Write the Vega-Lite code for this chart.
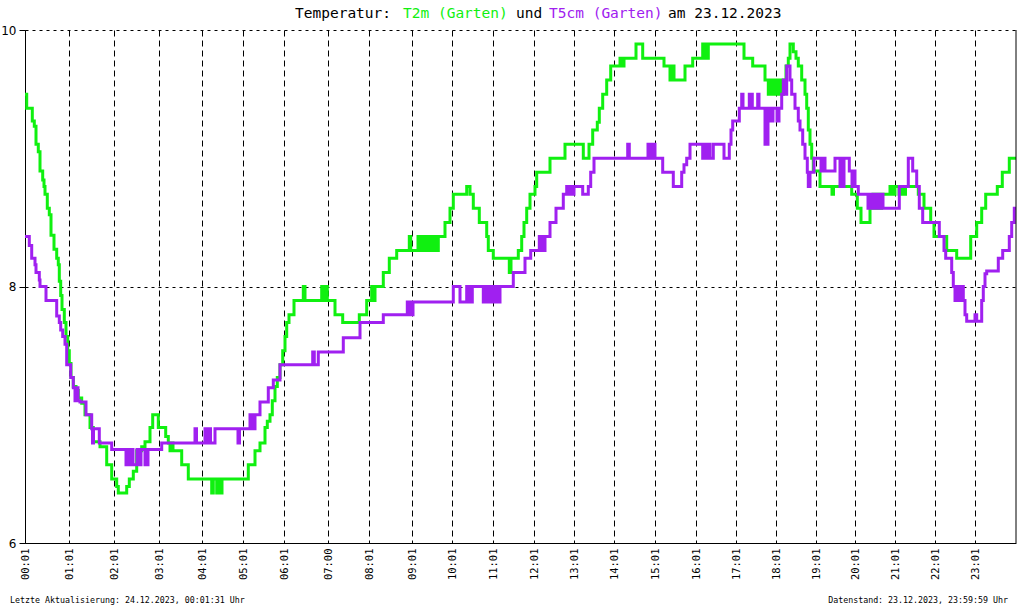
{
  "$schema": "https://vega.github.io/schema/vega-lite/v6.json",
  "width": 991,
  "height": 513,
  "autosize": {"type": "none"},
  "padding": {"left": 25, "top": 30, "right": 4, "bottom": 63},
  "background": "white",
  "config": {"view": {"stroke": null}},
  "datasets": {
    "g": [
      {"i":0,"v":9.5},{"i":1.7,"v":9.39},{"i":7.3,"v":9.29},{"i":9.3,"v":9.25},{"i":11,"v":9.11},{"i":13.3,"v":9.05},{"i":15,"v":8.9},{"i":17.7,"v":8.83},{"i":19,"v":8.78},{"i":20,"v":8.72},{"i":22.3,"v":8.61},{"i":24.3,"v":8.56},{"i":26,"v":8.4},{"i":29,"v":8.29},{"i":31.7,"v":8.22},{"i":33.3,"v":8.17},{"i":34.3,"v":8.04},{"i":35.7,"v":7.93},{"i":37,"v":7.82},{"i":39.3,"v":7.72},{"i":41,"v":7.61},{"i":42.7,"v":7.5},{"i":44.3,"v":7.4},{"i":46,"v":7.29},{"i":48.3,"v":7.22},{"i":51,"v":7.19},{"i":53.3,"v":7.13},{"i":56.7,"v":7.09},{"i":60,"v":7.0},{"i":65,"v":6.9},{"i":68.3,"v":6.79},{"i":75,"v":6.75},{"i":81.7,"v":6.61},{"i":86.7,"v":6.5},{"i":91.7,"v":6.44},{"i":93.3,"v":6.39},{"i":101.7,"v":6.44},{"i":104.3,"v":6.5},{"i":108.3,"v":6.56},{"i":111.7,"v":6.72},{"i":116.7,"v":6.75},{"i":120,"v":6.79},{"i":125,"v":6.9},{"i":127.7,"v":7.0},{"i":133.3,"v":6.9},{"i":140.7,"v":6.83},{"i":143.3,"v":6.78},{"i":145,"v":6.72},{"i":146.5,"v":6.78},{"i":148,"v":6.72},{"i":156.7,"v":6.61},{"i":163.3,"v":6.5},{"i":186.7,"v":6.39},{"i":188.3,"v":6.5},{"i":191.7,"v":6.39},{"i":193.3,"v":6.5},{"i":195,"v":6.39},{"i":197,"v":6.5},{"i":223.3,"v":6.61},{"i":230,"v":6.72},{"i":235,"v":6.78},{"i":240,"v":6.9},{"i":242.3,"v":6.95},{"i":245,"v":7.0},{"i":247.3,"v":7.11},{"i":250,"v":7.22},{"i":252.3,"v":7.29},{"i":255,"v":7.39},{"i":257.7,"v":7.5},{"i":260,"v":7.61},{"i":261.7,"v":7.72},{"i":264,"v":7.78},{"i":269,"v":7.89},{"i":278.3,"v":8.0},{"i":280,"v":7.89},{"i":296.7,"v":8.0},{"i":299,"v":7.89},{"i":300,"v":8.0},{"i":302.3,"v":7.89},{"i":310,"v":7.78},{"i":317.7,"v":7.72},{"i":334.3,"v":7.78},{"i":341.7,"v":7.89},{"i":346.7,"v":8.0},{"i":348,"v":7.89},{"i":350,"v":8.0},{"i":358.3,"v":8.11},{"i":364.3,"v":8.22},{"i":371.7,"v":8.28},{"i":384.3,"v":8.39},{"i":385.7,"v":8.28},{"i":393,"v":8.39},{"i":395,"v":8.28},{"i":397,"v":8.39},{"i":399,"v":8.28},{"i":401,"v":8.39},{"i":403,"v":8.28},{"i":405,"v":8.39},{"i":407,"v":8.28},{"i":409,"v":8.39},{"i":411,"v":8.28},{"i":413.3,"v":8.39},{"i":420,"v":8.5},{"i":425,"v":8.61},{"i":428.3,"v":8.72},{"i":441.7,"v":8.78},{"i":445,"v":8.72},{"i":448.3,"v":8.61},{"i":454.3,"v":8.5},{"i":461.7,"v":8.39},{"i":463.3,"v":8.28},{"i":468.3,"v":8.22},{"i":484.3,"v":8.11},{"i":486,"v":8.22},{"i":493.3,"v":8.28},{"i":496.7,"v":8.39},{"i":499,"v":8.5},{"i":501.7,"v":8.61},{"i":505,"v":8.72},{"i":510,"v":8.78},{"i":511.7,"v":8.89},{"i":525,"v":9.0},{"i":540,"v":9.11},{"i":558.3,"v":9.0},{"i":564,"v":9.11},{"i":567.7,"v":9.22},{"i":572.3,"v":9.28},{"i":574.3,"v":9.39},{"i":577.7,"v":9.5},{"i":581.7,"v":9.61},{"i":585.7,"v":9.72},{"i":595,"v":9.78},{"i":597,"v":9.72},{"i":599,"v":9.78},{"i":611,"v":9.89},{"i":617.7,"v":9.78},{"i":639,"v":9.72},{"i":645,"v":9.61},{"i":647,"v":9.72},{"i":649,"v":9.61},{"i":660,"v":9.72},{"i":667.7,"v":9.78},{"i":677.7,"v":9.89},{"i":679,"v":9.78},{"i":680.5,"v":9.89},{"i":681.5,"v":9.78},{"i":683.3,"v":9.89},{"i":719,"v":9.78},{"i":727.7,"v":9.72},{"i":740,"v":9.61},{"i":743.3,"v":9.5},{"i":746,"v":9.61},{"i":748,"v":9.5},{"i":751,"v":9.61},{"i":753,"v":9.5},{"i":755,"v":9.61},{"i":757,"v":9.5},{"i":758.3,"v":9.61},{"i":761,"v":9.72},{"i":763.3,"v":9.78},{"i":765,"v":9.89},{"i":768.3,"v":9.83},{"i":771,"v":9.78},{"i":773.3,"v":9.72},{"i":776.7,"v":9.61},{"i":780,"v":9.5},{"i":781.7,"v":9.39},{"i":783.3,"v":9.22},{"i":785,"v":9.11},{"i":786.7,"v":9.0},{"i":788.3,"v":8.9},{"i":795,"v":8.78},{"i":807,"v":8.72},{"i":808.5,"v":8.78},{"i":826.7,"v":8.72},{"i":832.3,"v":8.61},{"i":836,"v":8.5},{"i":845,"v":8.61},{"i":848,"v":8.72},{"i":850,"v":8.61},{"i":852,"v":8.72},{"i":854,"v":8.61},{"i":856.7,"v":8.72},{"i":865,"v":8.78},{"i":868,"v":8.72},{"i":870,"v":8.78},{"i":874,"v":8.72},{"i":876,"v":8.78},{"i":879,"v":8.72},{"i":880.5,"v":8.78},{"i":893.3,"v":8.72},{"i":899,"v":8.61},{"i":905.7,"v":8.5},{"i":909,"v":8.39},{"i":921.7,"v":8.28},{"i":931.7,"v":8.22},{"i":945.7,"v":8.39},{"i":951.7,"v":8.5},{"i":956.7,"v":8.61},{"i":960.7,"v":8.72},{"i":972.3,"v":8.78},{"i":977.3,"v":8.89},{"i":984.3,"v":9.0},{"i":991,"v":9.0}
    ],
    "p": [
      {"i":0,"v":8.39},{"i":4.3,"v":8.32},{"i":6.7,"v":8.22},{"i":10,"v":8.17},{"i":11,"v":8.11},{"i":14.3,"v":8.05},{"i":15,"v":8.0},{"i":21,"v":7.89},{"i":31.7,"v":7.77},{"i":34.3,"v":7.72},{"i":35.7,"v":7.66},{"i":37.7,"v":7.61},{"i":40,"v":7.55},{"i":41.7,"v":7.39},{"i":45.7,"v":7.29},{"i":48.3,"v":7.21},{"i":50,"v":7.11},{"i":51.5,"v":7.21},{"i":53,"v":7.11},{"i":55,"v":7.1},{"i":61,"v":7.0},{"i":66.7,"v":6.89},{"i":67.5,"v":6.78},{"i":68.5,"v":6.89},{"i":74.3,"v":6.78},{"i":86.7,"v":6.73},{"i":101,"v":6.61},{"i":103.5,"v":6.73},{"i":104.5,"v":6.61},{"i":107,"v":6.73},{"i":108,"v":6.61},{"i":112,"v":6.73},{"i":115,"v":6.61},{"i":116,"v":6.73},{"i":120,"v":6.61},{"i":123,"v":6.73},{"i":136.7,"v":6.78},{"i":170,"v":6.89},{"i":171.5,"v":6.78},{"i":180,"v":6.89},{"i":182,"v":6.78},{"i":184,"v":6.89},{"i":185.5,"v":6.78},{"i":190,"v":6.89},{"i":213,"v":6.78},{"i":214.5,"v":6.89},{"i":225,"v":7.0},{"i":226.5,"v":6.89},{"i":228,"v":7.0},{"i":229,"v":6.89},{"i":230,"v":7.0},{"i":235,"v":7.1},{"i":243.3,"v":7.21},{"i":248.3,"v":7.27},{"i":255,"v":7.39},{"i":287.7,"v":7.49},{"i":289.3,"v":7.39},{"i":293.3,"v":7.49},{"i":318.3,"v":7.6},{"i":335,"v":7.72},{"i":358.3,"v":7.78},{"i":382.3,"v":7.88},{"i":383.5,"v":7.78},{"i":385,"v":7.88},{"i":386.5,"v":7.78},{"i":388,"v":7.88},{"i":428.3,"v":8.0},{"i":435,"v":7.88},{"i":441.7,"v":8.0},{"i":443,"v":7.88},{"i":445,"v":8.0},{"i":446,"v":7.88},{"i":447.3,"v":8.0},{"i":458.3,"v":7.88},{"i":461,"v":8.0},{"i":463,"v":7.88},{"i":465,"v":8.0},{"i":467,"v":7.88},{"i":470,"v":8.0},{"i":472,"v":7.88},{"i":475,"v":8.0},{"i":488.3,"v":8.11},{"i":500,"v":8.22},{"i":505.7,"v":8.28},{"i":514.3,"v":8.39},{"i":516,"v":8.28},{"i":517.5,"v":8.39},{"i":519,"v":8.28},{"i":520,"v":8.39},{"i":525,"v":8.5},{"i":531,"v":8.61},{"i":538.3,"v":8.72},{"i":541.7,"v":8.78},{"i":543,"v":8.72},{"i":545,"v":8.78},{"i":547,"v":8.72},{"i":549,"v":8.78},{"i":557.7,"v":8.72},{"i":563.3,"v":8.78},{"i":565.7,"v":8.89},{"i":569,"v":9.0},{"i":602.7,"v":9.11},{"i":604.3,"v":9.0},{"i":623,"v":9.11},{"i":625,"v":9.0},{"i":627,"v":9.11},{"i":630,"v":9.0},{"i":637.7,"v":8.89},{"i":648.3,"v":8.78},{"i":656.7,"v":8.89},{"i":659,"v":8.95},{"i":661.7,"v":9.0},{"i":665,"v":9.11},{"i":677.7,"v":9.0},{"i":679,"v":9.11},{"i":681,"v":9.0},{"i":683,"v":9.11},{"i":685,"v":9.0},{"i":688.3,"v":9.11},{"i":699,"v":9.0},{"i":704.3,"v":9.11},{"i":706,"v":9.22},{"i":707.7,"v":9.29},{"i":714.3,"v":9.39},{"i":716.7,"v":9.5},{"i":718,"v":9.39},{"i":724.3,"v":9.5},{"i":727.3,"v":9.39},{"i":732.7,"v":9.5},{"i":734,"v":9.39},{"i":740,"v":9.11},{"i":743,"v":9.39},{"i":746,"v":9.29},{"i":748,"v":9.39},{"i":752,"v":9.29},{"i":754,"v":9.39},{"i":756.7,"v":9.5},{"i":758.3,"v":9.61},{"i":759.5,"v":9.5},{"i":761.7,"v":9.72},{"i":765,"v":9.61},{"i":766.7,"v":9.5},{"i":770,"v":9.39},{"i":773.3,"v":9.29},{"i":775,"v":9.22},{"i":777.7,"v":9.11},{"i":780,"v":9.0},{"i":782.3,"v":8.89},{"i":783.3,"v":8.78},{"i":785,"v":8.89},{"i":789,"v":9.0},{"i":796,"v":8.9},{"i":798,"v":9.0},{"i":800,"v":8.9},{"i":810,"v":9.0},{"i":815,"v":8.78},{"i":816.5,"v":9.0},{"i":817,"v":8.78},{"i":819,"v":9.0},{"i":824.3,"v":8.9},{"i":827,"v":8.78},{"i":828.5,"v":8.9},{"i":830,"v":8.78},{"i":833.3,"v":8.72},{"i":843,"v":8.61},{"i":845,"v":8.72},{"i":848,"v":8.61},{"i":850,"v":8.72},{"i":853,"v":8.61},{"i":855,"v":8.72},{"i":858,"v":8.61},{"i":874.3,"v":8.78},{"i":883.3,"v":9.0},{"i":887.7,"v":8.9},{"i":891.7,"v":8.78},{"i":894.3,"v":8.61},{"i":897.7,"v":8.5},{"i":914.3,"v":8.39},{"i":919,"v":8.28},{"i":920.7,"v":8.22},{"i":926.7,"v":8.11},{"i":928.3,"v":8.0},{"i":930,"v":7.89},{"i":931,"v":8.0},{"i":933,"v":7.89},{"i":934,"v":8.0},{"i":936,"v":7.89},{"i":937,"v":8.0},{"i":938.3,"v":7.89},{"i":940,"v":7.78},{"i":941.7,"v":7.73},{"i":950,"v":7.78},{"i":951.7,"v":7.73},{"i":956.7,"v":7.89},{"i":958.3,"v":8.0},{"i":960,"v":8.1},{"i":961.7,"v":8.12},{"i":973.3,"v":8.22},{"i":977.7,"v":8.28},{"i":984.3,"v":8.39},{"i":986.7,"v":8.5},{"i":989.3,"v":8.61},{"i":991,"v":8.61}
    ]
  },
  "layer": [
    {
      "data": {"name": "g"},
      "mark": {"type": "line", "interpolate": "step-after", "color": "#10F010", "strokeWidth": 3, "strokeCap": "butt"},
      "encoding": {
        "x": {
          "field": "i", "type": "quantitative",
          "scale": {"domain": [0, 991], "nice": false, "zero": false},
          "axis": {
            "title": null,
            "values": [0,44,89,134,177,218,259,303,344,387,427,468,509,549,589,630,671,711,751,791,830,870,910,950],
            "labelExpr": "['00:01','01:01','02:01','03:01','04:01','05:01','06:01','07:00','08:01','09:01','10:01','11:01','12:01','13:01','14:01','15:01','16:01','17:01','18:01','19:01','20:01','21:01','22:01','23:01'][indexof([0,44,89,134,177,218,259,303,344,387,427,468,509,549,589,630,671,711,751,791,830,870,910,950], datum.value)]",
            "labelAngle": 270,
            "labelFont": "DejaVu Sans Mono",
            "labelFontSize": 10.5,
            "labelColor": "black",
            "labelPadding": 5,
            "labelOverlap": false,
            "labelFlush": false,
            "labelBound": false,
            "ticks": false,
            "tickSize": 0,
            "domainColor": "black",
            "domainWidth": 1,
            "grid": true,
            "gridColor": "black",
            "gridDash": [6, 4],
            "gridWidth": 1,
            "gridOpacity": 1
          }
        },
        "y": {
          "field": "v", "type": "quantitative",
          "scale": {"domain": [6, 10], "nice": false, "zero": false},
          "axis": {
            "title": null,
            "values": [6, 8, 10],
            "format": "d",
            "labelFont": "DejaVu Sans",
            "labelFontSize": 12,
            "labelColor": "black",
            "labelPadding": 3,
            "labelFlush": false,
            "labelBound": false,
            "ticks": true,
            "tickSize": 6,
            "tickColor": "black",
            "tickWidth": 1,
            "domainColor": "black",
            "domainWidth": 1,
            "grid": true,
            "gridColor": "black",
            "gridDash": [3, 4],
            "gridWidth": 1,
            "gridOpacity": 1
          }
        }
      }
    },
    {
      "data": {"name": "p"},
      "mark": {"type": "line", "interpolate": "step-after", "color": "#A020F0", "strokeWidth": 3, "strokeCap": "butt"},
      "encoding": {
        "x": {"field": "i", "type": "quantitative", "scale": {"domain": [0, 991], "nice": false, "zero": false}, "axis": {"title": null}},
        "y": {"field": "v", "type": "quantitative", "scale": {"domain": [6, 10], "nice": false, "zero": false}, "axis": {"title": null}}
      }
    },
    {
      "data": {"values": [{}]},
      "mark": {"type": "rule", "color": "black", "strokeWidth": 1},
      "encoding": {
        "x": {"datum": 991, "type": "quantitative", "axis": {"title": null}}
      }
    },
    {
      "data": {"values": [{}]},
      "mark": {"type": "text", "align": "left", "baseline": "alphabetic", "font": "DejaVu Sans Mono", "fontSize": 14.5, "color": "black"},
      "encoding": {
        "x": {"datum": 270, "type": "quantitative", "axis": {"title": null}},
        "y": {"datum": 10.091, "type": "quantitative", "axis": {"title": null}},
        "text": {"value": "Temperatur:"}
      }
    },
    {
      "data": {"values": [{}]},
      "mark": {"type": "text", "align": "left", "baseline": "alphabetic", "font": "DejaVu Sans Mono", "fontSize": 14.5, "color": "#10F010"},
      "encoding": {
        "x": {"datum": 378, "type": "quantitative", "axis": {"title": null}},
        "y": {"datum": 10.091, "type": "quantitative", "axis": {"title": null}},
        "text": {"value": "T2m (Garten)"}
      }
    },
    {
      "data": {"values": [{}]},
      "mark": {"type": "text", "align": "left", "baseline": "alphabetic", "font": "DejaVu Sans Mono", "fontSize": 14.5, "color": "black"},
      "encoding": {
        "x": {"datum": 491, "type": "quantitative", "axis": {"title": null}},
        "y": {"datum": 10.091, "type": "quantitative", "axis": {"title": null}},
        "text": {"value": "und"}
      }
    },
    {
      "data": {"values": [{}]},
      "mark": {"type": "text", "align": "left", "baseline": "alphabetic", "font": "DejaVu Sans Mono", "fontSize": 14.5, "color": "#A020F0"},
      "encoding": {
        "x": {"datum": 524, "type": "quantitative", "axis": {"title": null}},
        "y": {"datum": 10.091, "type": "quantitative", "axis": {"title": null}},
        "text": {"value": "T5cm (Garten)"}
      }
    },
    {
      "data": {"values": [{}]},
      "mark": {"type": "text", "align": "left", "baseline": "alphabetic", "font": "DejaVu Sans Mono", "fontSize": 14.5, "color": "black"},
      "encoding": {
        "x": {"datum": 643, "type": "quantitative", "axis": {"title": null}},
        "y": {"datum": 10.091, "type": "quantitative", "axis": {"title": null}},
        "text": {"value": "am 23.12.2023"}
      }
    },
    {
      "data": {"values": [{}]},
      "mark": {"type": "text", "align": "left", "baseline": "alphabetic", "font": "DejaVu Sans Mono", "fontSize": 8.3, "color": "black"},
      "encoding": {
        "x": {"datum": -15, "type": "quantitative", "axis": {"title": null}},
        "y": {"datum": 5.532, "type": "quantitative", "axis": {"title": null}},
        "text": {"value": "Letzte Aktualisierung: 24.12.2023, 00:01:31 Uhr"}
      }
    },
    {
      "data": {"values": [{}]},
      "mark": {"type": "text", "align": "right", "baseline": "alphabetic", "font": "DejaVu Sans Mono", "fontSize": 8.3, "color": "black"},
      "encoding": {
        "x": {"datum": 983, "type": "quantitative", "axis": {"title": null}},
        "y": {"datum": 5.532, "type": "quantitative", "axis": {"title": null}},
        "text": {"value": "Datenstand: 23.12.2023, 23:59:59 Uhr"}
      }
    }
  ]
}
